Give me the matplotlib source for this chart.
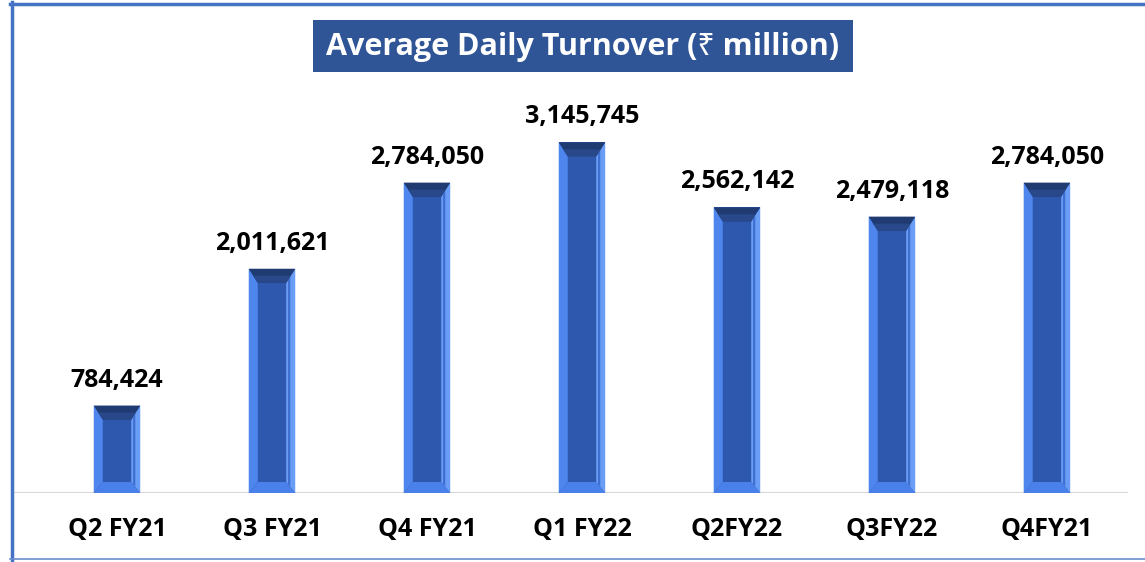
import numpy as np
import matplotlib.pyplot as plt
from matplotlib.patches import Polygon, Rectangle
from matplotlib.lines import Line2D

plt.rcParams["font.family"] = ["Open Sans", "Noto Sans", "DejaVu Sans"]

quarters = ["Q2 FY21", "Q3 FY21", "Q4 FY21", "Q1 FY22", "Q2FY22", "Q3FY22", "Q4FY21"]
turnover = [784424, 2011621, 2784050, 3145745, 2562142, 2479118, 2784050]

W, H = 1145, 562
FACE = "#2E57AE"
LEFT_SIDE = "#4F86EE"
RIGHT_SIDE = "#6A9EF6"
TOP_SIDE = "#1F3B72"
BOTTOM_SIDE = "#4A80EA"

fig = plt.figure(figsize=(W / 100, H / 100), dpi=100)
fig.patch.set_facecolor("white")

# axes placed so the baseline sits where the reference has it
ax = fig.add_axes([13 / W, (H - 493) / H, (1128 - 13) / W, (493 - 60) / H])
x = np.arange(len(quarters))
bars = ax.bar(x, turnover, width=0.30, color=FACE, zorder=2)
ax.set_xlim(-0.671, 6.523)
ax.set_ylim(0, 433 * 8970)

# bevel sizes in pixels -> data units
xr = ax.get_xlim()[1] - ax.get_xlim()[0]
yr = ax.get_ylim()[1] - ax.get_ylim()[0]
ax_w = (1128 - 13)
ax_h = (493 - 60)
side = 9 * xr / ax_w
top = 14 * yr / ax_h
bot = 11 * yr / ax_h

for b in bars:
    x0 = b.get_x()
    x1 = x0 + b.get_width()
    h = b.get_height()
    polys = [
        ([(x0, 0), (x0 + side, bot), (x0 + side, h - top), (x0, h)], LEFT_SIDE),
        ([(x1, 0), (x1, h), (x1 - side, h - top), (x1 - side, bot)], RIGHT_SIDE),
        ([(x0, 0), (x1, 0), (x1 - side, bot), (x0 + side, bot)], BOTTOM_SIDE),
        ([(x0, h), (x1, h), (x1 - side, h - top), (x0 + side, h - top)], TOP_SIDE),
    ]
    for pts, c in polys:
        ax.add_patch(Polygon(pts, closed=True, facecolor=c, edgecolor="none", zorder=3))
    # darker stripe inside the right side
    ax.add_patch(Polygon([(x1 - side * 0.55, bot * 0.6), (x1 - side * 0.55, h - top * 0.6),
                          (x1 - side * 0.8, h - top * 0.8), (x1 - side * 0.8, bot * 0.8)],
                         closed=True, facecolor="#3F6FD0", edgecolor="none", zorder=4))
    # lighter shading toward the top bevel's lower edge
    ax.add_patch(Polygon([(x0 + side * 0.5, h - top * 0.5), (x1 - side * 0.5, h - top * 0.5),
                          (x1 - side, h - top), (x0 + side, h - top)],
                         closed=True, facecolor="#28488A", edgecolor="none", zorder=4))
    ax.annotate(f"{int(h):,}", (b.get_x() + b.get_width() / 2, h),
                xytext=(0, 13), textcoords="offset pixels",
                ha="center", va="bottom", fontsize=18, fontweight="bold", color="black")

ax.axhline(0, color="#D9D9D9", lw=1.6, zorder=1)
for s in ax.spines.values():
    s.set_visible(False)
ax.set_yticks([])
ax.set_xticks(x)
ax.set_xticklabels(quarters, fontsize=18, fontweight="bold")
ax.tick_params(axis="x", length=0, pad=17)
ax.patch.set_alpha(0)

# title box
fig.add_artist(Rectangle((313 / W, 1 - 72 / H), (853 - 313) / W, (72 - 20) / H,
                         transform=fig.transFigure, facecolor="#2F5597", edgecolor="none"))
fig.text(583 / W, 1 - 47 / H, "Average Daily Turnover (₹ million)", ha="center", va="center",
         fontsize=22, fontweight="bold", color="white")

# outer border
fig.add_artist(Line2D([11.5 / W, 11.5 / W], [1 - 560 / H, 1 - 2 / H], color="#4472C4", lw=2.5,
                      transform=fig.transFigure))
fig.add_artist(Line2D([10 / W, 1], [1 - 3.5 / H, 1 - 3.5 / H], color="#4472C4", lw=2.5,
                      transform=fig.transFigure))
fig.add_artist(Line2D([10 / W, 1], [1 - 559 / H, 1 - 559 / H], color="#6C8ED0", lw=1.2,
                      transform=fig.transFigure))

fig.savefig("out.png", dpi=100)
